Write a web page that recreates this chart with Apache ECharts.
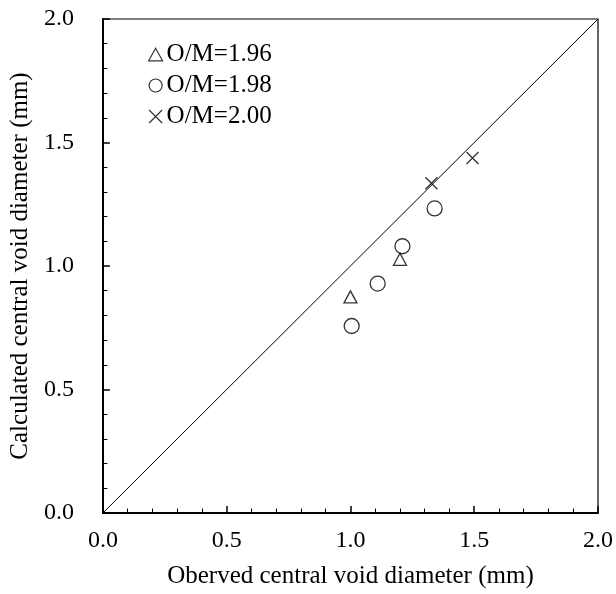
<!DOCTYPE html>
<html><head><meta charset="utf-8">
<script src="https://cdn.jsdelivr.net/npm/echarts@6/dist/echarts.min.js"></script>
<style>html,body{margin:0;padding:0;background:#fff}#c{width:616px;height:594px}</style>
</head><body><div id="c"></div>
<script>
const seriesNames = ['O/M=1.96', 'O/M=1.98', 'O/M=2.00'];
const tri = [[1.00, 0.875], [1.20, 1.027]];
const circ = [[1.005, 0.757], [1.11, 0.929], [1.21, 1.08], [1.34, 1.233]];
const cross = [[1.327, 1.335], [1.493, 1.437]];
const diagLine = [[0, 0], [2, 2]];
const axisMin = 0, axisMax = 2.0, axisStep = 0.5;

const FONT = 'Liberation Serif';
const crossPath = 'path://M0,0L10,10M10,0L0,10';
const triPath = 'path://M5,0L10,9L0,9Z';

const chart = echarts.init(document.getElementById('c'));
function mkSeries(name, data, symbol, size) {
  return {
    name, type: 'scatter', data, symbol, symbolSize: size,
    itemStyle: { color: 'rgba(0,0,0,0)', borderColor: '#000', borderWidth: 1.3 },
    emphasis: { disabled: true }, z: 5
  };
}
chart.setOption({
  animation: false,
  grid: { left: 101, right: 14, top: 19, bottom: 80, show: true, borderColor: '#000', borderWidth: 1.2, backgroundColor: 'transparent' },
  legend: {
    orient: 'vertical', left: 143, top: 37, itemGap: 6, itemWidth: 14, itemHeight: 13,
    data: seriesNames,
    itemStyle: { borderWidth: 1.2 },
    textStyle: { fontFamily: FONT, fontSize: 25, color: '#000', padding: [0, 0, 0, -1] }
  },
  xAxis: {
    type: 'value', min: axisMin, max: axisMax, interval: axisStep,
    name: 'Oberved central void diameter (mm)', nameLocation: 'middle', nameGap: 51,
    nameTextStyle: { fontFamily: FONT, fontSize: 25, color: '#000' },
    axisLine: { onZero: false, lineStyle: { color: '#000', width: 2 } },
    axisTick: { inside: true, length: 7, lineStyle: { color: '#000', width: 1.5 } },
    minorTick: { show: true, splitNumber: 5, length: 4.5, lineStyle: { color: '#000', width: 1 } },
    axisLabel: { fontFamily: FONT, fontSize: 24, color: '#000', margin: 16, formatter: v => v.toFixed(1) },
    splitLine: { show: false }
  },
  yAxis: {
    type: 'value', min: axisMin, max: axisMax, interval: axisStep,
    name: 'Calculated central void diameter (mm)', nameLocation: 'middle', nameGap: 64,
    nameTextStyle: { fontFamily: FONT, fontSize: 25, color: '#000' },
    axisLine: { onZero: false, lineStyle: { color: '#000', width: 2 } },
    axisTick: { inside: true, length: 7, lineStyle: { color: '#000', width: 1.5 } },
    minorTick: { show: true, splitNumber: 5, length: 4.5, lineStyle: { color: '#000', width: 1 } },
    axisLabel: { fontFamily: FONT, fontSize: 24, color: '#000', margin: 29, formatter: v => v.toFixed(1) },
    splitLine: { show: false }
  },
  series: [
    { type: 'line', data: diagLine, symbol: 'none', lineStyle: { color: '#000', width: 1 }, silent: true, z: 2 },
    mkSeries(seriesNames[0], tri, triPath, [13, 12]),
    mkSeries(seriesNames[1], circ, 'circle', 15),
    mkSeries(seriesNames[2], cross, crossPath, 12)
  ]
});
</script></body></html>
